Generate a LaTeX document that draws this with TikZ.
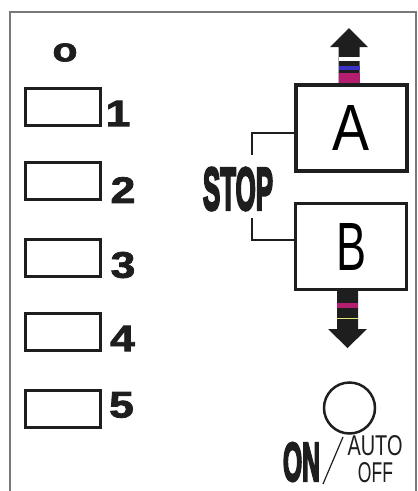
\documentclass[tikz,border=0pt]{standalone}
\usepackage{fontspec}
\setmainfont{Liberation Sans}
\newfontfamily\heavyfont{Liberation Sans Bold}[FakeBold=5]
\newfontfamily\blackfont{Liberation Sans Bold}[FakeBold=2]
\definecolor{frame}{RGB}{120,120,120}
\definecolor{ink}{RGB}{30,30,30}
\definecolor{stripeblue}{RGB}{60,50,200}
\definecolor{stripered}{RGB}{180,30,110}
\definecolor{stripeyel}{RGB}{230,230,120}
\newcommand{\slot}[3]{\node[slotbox] (slot#1) at (63,#2) {};
 	\node[digit] (num#1) at (#3) {\scalebox{1.2}[1]{#1}}}
\newcommand{\band}[4]{\fill[#1] (#2,#3) rectangle ++(21,#4)}
\tikzset{
  epais/.style={line width=3.4pt},
  slotbox/.style={draw=ink, epais, minimum width=75pt, minimum height=37pt, inner sep=0pt},
  digit/.style={inner sep=0pt, text=ink, font=\fontsize{37}{37}\blackfont},
  keybox/.style={draw=ink, epais, minimum width=111pt, minimum height=86pt, inner sep=0pt},
  plain/.style={inner sep=0pt, text=ink}
}
\begin{document}
\begin{tikzpicture}[x=1pt, y=-1pt]
\useasboundingbox (0,0) rectangle (418,491);
%Frame
	\draw[frame, line width=1.5pt] (10,495) -- (10,12) -- (416,12) -- (416,495);
%Left column
	\node[plain] (zero) at (65,52.5) {\resizebox{25pt}{18pt}{\blackfont o}};
	\slot{1}{107}{118,113.5};
	\slot{2}{181}{123,190};
	\slot{3}{258}{123,265};
	\slot{4}{332}{122.5,338.5};
	\slot{5}{409}{121.5,405};
%Keys A and B
	\node[keybox] (keyA) at (351.5,128) {\resizebox{37pt}{45pt}{A}};
	\node[keybox] (keyB) at (351,246.5) {\resizebox{30pt}{47pt}{B}};
	\node[plain] (stop) at (238,189) {\resizebox{70pt}{42pt}{\heavyfont STOP}};
	\coordinate (bendA) at (252,133);
	\coordinate (bendB) at (252,240);
	\draw[ink, line width=2pt] (keyA.west |- bendA) -- (bendA) -- ++(0,22);
	\draw[ink, line width=2pt] (keyB.west |- bendB) -- (bendB) -- ++(0,-22);
%Up arrow
	\fill[ink] (keyA.north -| 338.5,0) -- (338.5,47) -- (330,47) -- (349,28)
		-- (368,47) -- (359.5,47) -- (keyA.north -| 359.5,0) -- cycle;
	\band{white}{338.5}{57}{4};
	\band{stripeblue}{338.5}{66}{4};
	\band{stripered}{338.5}{73}{10};
%Down arrow
	\fill[ink] (keyB.south -| 337,0) -- (337,329) -- (328,329) -- (347.5,348)
		-- (367,329) -- (358,329) -- (keyB.south -| 358,0) -- cycle;
	\band{stripered}{337}{303}{5};
	\band{stripeyel}{337}{317.5}{1.5};
%On / auto off
	\node[draw=ink, line width=2.5pt, circle, minimum size=51pt, inner sep=0pt] (power) at (349.5,408) {};
	\node[plain] (on) at (301.5,462) {\resizebox{37pt}{38pt}{\heavyfont ON}};
	\coordinate (slashlow) at (323,484);
	\coordinate (slashtop) at (343,437);
	\draw[ink, line width=1.2pt] (slashlow) -- (slashtop);
	\node[plain] (auto) at (375,446) {\resizebox{55pt}{20pt}{AUTO}};
	\node[plain] (off) at (375.5,473) {\resizebox{35pt}{20pt}{OFF}};
\end{tikzpicture}
\end{document}
